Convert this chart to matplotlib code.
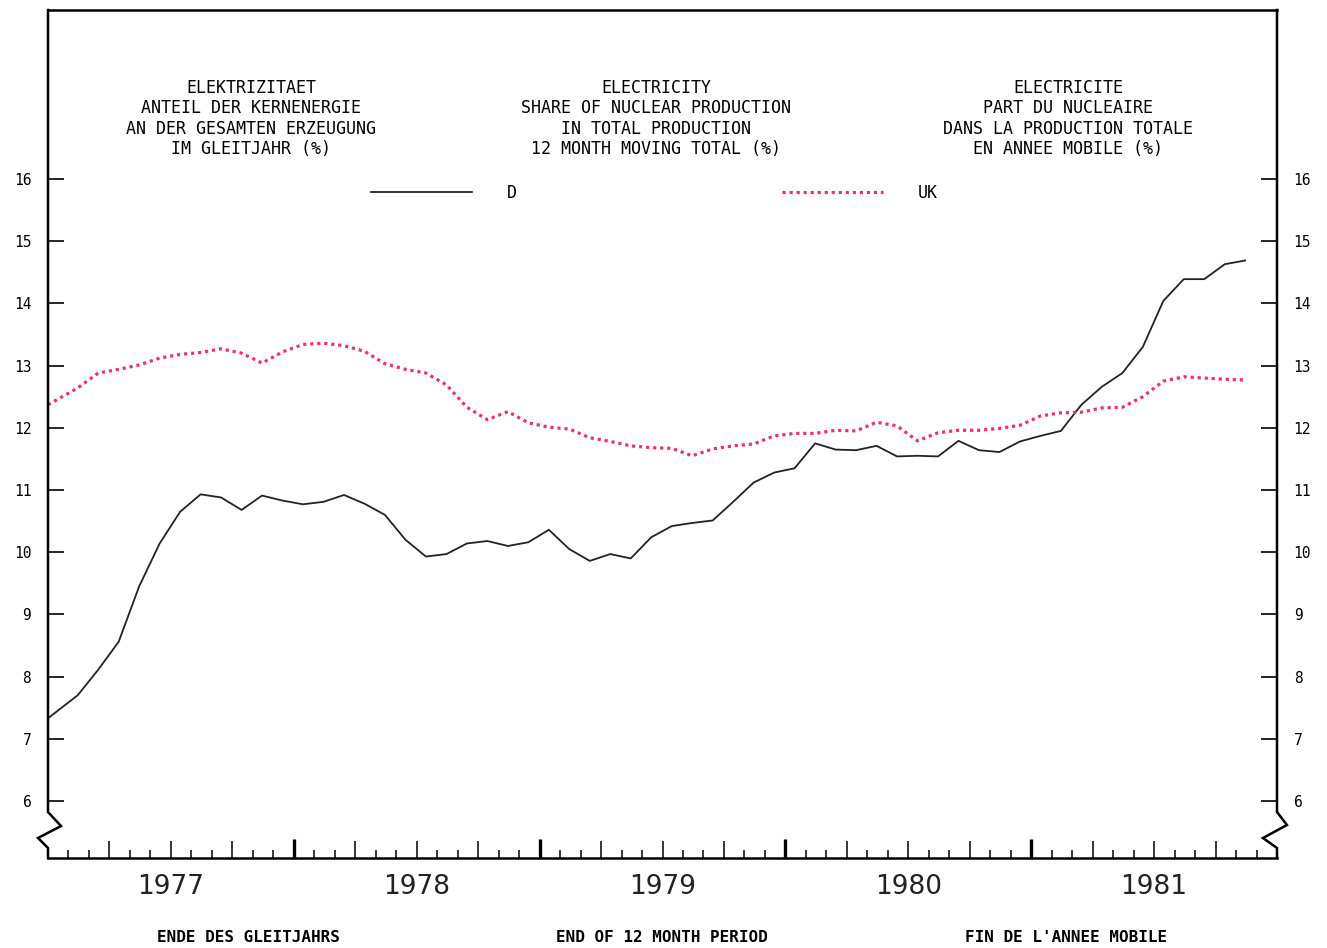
import numpy as np
import matplotlib
matplotlib.use("Agg")
import matplotlib.pyplot as plt

# MONTHLY VALUES, JAN 1977 - NOV 1981 (12 month moving total, %)
months = np.arange(59)
d_share = [7.33, 7.70, 8.11, 8.56, 9.45, 10.14, 10.65, 10.93, 10.88, 10.68,
           10.91, 10.83, 10.77, 10.81, 10.92, 10.78, 10.60, 10.20, 9.93, 9.97,
           10.14, 10.18, 10.10, 10.16, 10.36, 10.05, 9.86, 9.97, 9.90, 10.24,
           10.42, 10.47, 10.51, 10.81, 11.12, 11.28, 11.35, 11.75, 11.65, 11.64,
           11.71, 11.54, 11.55, 11.54, 11.79, 11.64, 11.61, 11.78, 11.87, 11.95,
           12.37, 12.66, 12.88, 13.30, 14.04, 14.39, 14.39, 14.63, 14.69]
uk_share = [12.37, 12.64, 12.88, 12.94, 13.01, 13.12, 13.18, 13.21, 13.27, 13.20,
            13.04, 13.22, 13.34, 13.36, 13.32, 13.23, 13.03, 12.94, 12.88, 12.69,
            12.33, 12.13, 12.26, 12.08, 12.01, 11.98, 11.84, 11.78, 11.71, 11.68,
            11.67, 11.55, 11.66, 11.71, 11.74, 11.87, 11.91, 11.91, 11.96, 11.95,
            12.09, 12.03, 11.79, 11.92, 11.96, 11.96, 11.99, 12.04, 12.19, 12.24,
            12.25, 12.32, 12.33, 12.50, 12.75, 12.82, 12.80, 12.78, 12.77]

years = ["1977", "1978", "1979", "1980", "1981"]
y_ticks = [6, 7, 8, 9, 10, 11, 12, 13, 14, 15, 16]

title_de = ["ELEKTRIZITAET", "ANTEIL DER KERNENERGIE",
            "AN DER GESAMTEN ERZEUGUNG", "IM GLEITJAHR (%)"]
title_en = ["ELECTRICITY", "SHARE OF NUCLEAR PRODUCTION",
            "IN TOTAL PRODUCTION", "12 MONTH MOVING TOTAL (%)"]
title_fr = ["ELECTRICITE", "PART DU NUCLEAIRE",
            "DANS LA PRODUCTION TOTALE", "EN ANNEE MOBILE (%)"]
foot = ["ENDE DES GLEITJAHRS", "END OF 12 MONTH PERIOD", "FIN DE L'ANNEE MOBILE"]

MONO = "DejaVu Sans Mono"
UK_COL = "#e8336b"

# first value sits on the axis, the rest mid-month
x = np.where(months == 0, 0, months + 0.45)

W, H = 1327, 948
fig = plt.figure(figsize=(W / 100, H / 100), dpi=100)
ax = fig.add_axes([48 / W, 90 / H, 1229 / W, 848 / H])

ax.plot(x, d_share, color="#222222", lw=1.3, label="D")
ax.plot(x, uk_share, color=UK_COL, lw=2.3, linestyle=(0, (1.0, 1.2)),
        label="UK")

ax.set_xlim(0, 60)
ax.set_ylim(6 - 57 / 62.2, 16 + 169 / 62.2)

# FRAME WITH AXIS BREAKS
for s in ax.spines.values():
    s.set_visible(False)
fl = dict(color="black", lw=1.8, clip_on=False, transform=ax.transAxes,
          solid_joinstyle="miter")
ax.plot([0, 1], [1, 1], **fl)
ax.plot([0, 1], [0, 0], **fl)
ax.plot([0, 0, 0.0106, -0.0081, 0, 0], [1, 0.0542, 0.0377, 0.0236, 0.0118, 0], **fl)
ax.plot([1, 1, 1.0081, 0.9886, 1, 1], [1, 0.0542, 0.0389, 0.0236, 0.0118, 0], **fl)

# Y TICKS BOTH SIDES
ax.set_yticks(y_ticks)
ax.set_yticklabels([str(v) for v in y_ticks], fontfamily=MONO, fontsize=10.5)
ax.tick_params(axis="y", which="major", direction="in", length=11.5, width=1.2,
               left=True, right=True, labelleft=True, labelright=True, pad=12)

# X TICKS: MONTHS, QUARTERS, YEARS
ax.set_xticks([m for m in range(3, 60, 3) if m % 12 != 0])
ax.set_xticks([m for m in range(1, 60) if m % 3 != 0], minor=True)
ax.tick_params(axis="x", which="major", direction="in", length=12, width=1.1,
               labelbottom=False)
ax.tick_params(axis="x", which="minor", direction="in", length=5.5, width=1.1)

sec = ax.secondary_xaxis("bottom")
sec.spines["bottom"].set_visible(False)
sec.set_xticks([12, 24, 36, 48])
sec.tick_params(axis="x", direction="in", length=13.7, width=2.4,
                labelbottom=False)

for k, yr in enumerate(years):
    ax.text(6 + 12 * k, -0.034, yr, transform=ax.get_xaxis_transform(),
            ha="center", va="center", fontsize=19, color="#222222")

# TITLES
for cx, lines in zip([251, 656, 1068], [title_de, title_en, title_fr]):
    for j, line in enumerate(lines):
        fig.text(cx / W, 1 - (88 + 20.4 * j) / H, line, ha="center", va="center",
                 fontfamily=MONO, fontsize=12)

for cx, t in zip([248, 662, 1066], foot):
    fig.text(cx / W, 1 - 938 / H, t, ha="center", va="center",
             fontfamily=MONO, fontsize=11.5, fontweight="bold")

leg = ax.legend(loc="center left", bbox_to_anchor=(0.2628, 0.7842), ncol=2,
                frameon=False, borderpad=0, borderaxespad=0,
                handlelength=6.06, handletextpad=2.1, columnspacing=15.9,
                prop={"family": MONO, "size": 12})

fig.savefig("out.png", dpi=100, facecolor="white")
